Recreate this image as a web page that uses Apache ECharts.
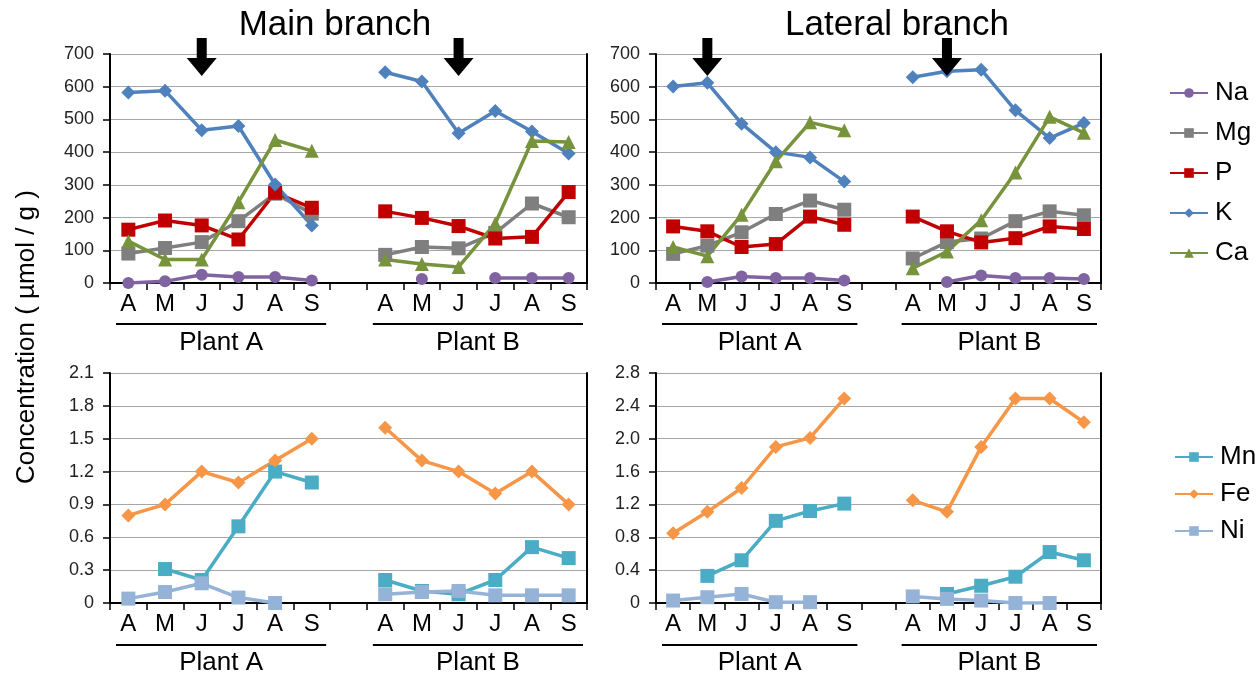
<!DOCTYPE html>
<html><head><meta charset="utf-8">
<script src="https://cdn.jsdelivr.net/npm/echarts@6/dist/echarts.min.js"></script>
<style>html,body{margin:0;padding:0;background:#fff}#c{width:1257px;height:678px}</style>
</head><body><div id="c"></div>
<script>
const months = ['A','M','J','J','A','S','','A','M','J','J','A','S'];
const plantLabels = ['Plant A','Plant B'];
const panelTitles = ['Main branch','Lateral branch'];
const yName = 'Concentration ( µmol / g )';

// Main branch, macro elements
const naMain = [0,5,25,18,18,8,null,null,12,null,15,15,15];
const mgMain = [90,107,125,189,273,212,null,86,110,106,153,243,201];
const pMain  = [163,191,176,133,276,230,null,219,199,174,136,141,278];
const kMain  = [582,588,467,480,301,176,null,644,616,458,526,463,396];
const caMain = [128,72,72,247,437,404,null,72,58,49,182,434,431];
// Lateral branch, macro elements
const naLat = [null,3,20,15,15,8,null,null,3,23,15,15,12];
const mgLat = [89,114,155,211,252,224,null,75,125,136,189,219,207];
const pLat  = [173,158,110,119,203,178,null,203,158,124,137,173,165];
const kLat  = [601,612,487,400,384,310,null,629,647,652,528,443,489];
const caLat = [110,82,209,372,491,467,null,45,96,192,338,508,459];
// Main branch, micro elements
const mnMain = [null,0.31,0.21,0.70,1.20,1.10,null,0.21,0.11,0.08,0.21,0.51,0.41];
const feMain = [0.8,0.9,1.2,1.1,1.3,1.5,null,1.6,1.3,1.2,1.0,1.2,0.9];
const niMain = [0.04,0.10,0.18,0.05,0.0,null,null,0.08,0.10,0.11,0.07,0.07,0.07];
// Lateral branch, micro elements
const mnLat = [null,0.33,0.52,1.00,1.12,1.21,null,null,0.11,0.21,0.32,0.62,0.52];
const feLat = [0.85,1.11,1.40,1.90,2.01,2.49,null,1.25,1.11,1.90,2.49,2.49,2.20];
const niLat = [0.03,0.07,0.11,0.01,0.01,null,null,0.08,0.05,0.03,0,0,null];

// arrow positions (category index) per top panel
const arrowsMain = [2, 9];
const arrowsLat = [1, 8];

const yMax = [700, 700, 2.1, 2.8];
const yInt = [100, 100, 0.3, 0.4];

const FONT = 'Liberation Sans, Arial, sans-serif';
const styles = {
  Na:{c:'#8064A2', s:'circle', z:12},
  Mg:{c:'#7F7F7F', s:'rect', z:14},
  P:{c:'#C00000', s:'rect', z:14},
  K:{c:'#4F81BD', s:'diamond', z:14},
  Ca:{c:'#77933C', s:'triangle', z:14},
  Mn:{c:'#4BACC6', s:'rect', z:14},
  Fe:{c:'#F79646', s:'diamond', z:14},
  Ni:{c:'#95B3D7', s:'rect', z:14}
};

const grids = [
  {left:110, top:54, width:477, height:229},
  {left:656, top:54, width:445, height:229},
  {left:110, top:373, width:477, height:230},
  {left:656, top:373, width:445, height:230}
];

const xAxis = [], yAxis = [];
grids.forEach((g,i)=>{
  xAxis.push({type:'category', gridIndex:i, data:months, boundaryGap:true,
    axisLine:{lineStyle:{color:'#000', width:2}},
    axisTick:{show:true, interval:0, length:7, lineStyle:{color:'#000', width:1.5}},
    axisLabel:{interval:0, fontSize:24, color:'#000', fontFamily:FONT, margin:9}});
  xAxis.push({type:'category', gridIndex:i, data:months, position:'top',
    axisLine:{lineStyle:{color:'#000', width:2}}, axisTick:{show:false}, axisLabel:{show:false}});
  yAxis.push({type:'value', gridIndex:i, min:0, max:yMax[i], interval:yInt[i],
    axisLine:{show:true, lineStyle:{color:'#000', width:2}},
    axisTick:{show:true, length:7, lineStyle:{color:'#000', width:1.5}},
    splitLine:{lineStyle:{color:'#A6A6A6', width:1.2}},
    axisLabel:{fontSize:18, color:'#222', fontFamily:FONT, margin:16,
      formatter:v=> i<2 ? String(Math.round(v)) : (Math.abs(v)<1e-9 ? '0' : v.toFixed(1))}});
  yAxis.push({type:'value', gridIndex:i, min:0, max:yMax[i], interval:yInt[i], position:'right',
    axisLine:{show:true, lineStyle:{color:'#000', width:2}}, axisTick:{show:false},
    axisLabel:{show:false}, splitLine:{show:false}});
});

function mk(name, data, gi, arrows){
  const st = styles[name];
  const s = {name, type:'line', data, xAxisIndex:2*gi, yAxisIndex:2*gi,
    symbol:st.s, symbolSize:st.z, showAllSymbol:true, connectNulls:false,
    lineStyle:{color:st.c, width:3.5}, itemStyle:{color:st.c}, color:st.c, z:3};
  if (arrows){
    s.markPoint = {symbol:'path://M10,0 L20,0 L20,20 L30,20 L15,38 L0,20 L10,20 Z',
      symbolSize:[30,38], symbolOffset:[0,3], itemStyle:{color:'#000'}, label:{show:false},
      silent:true,
      data: arrows.map(ix=>({coord:[ix, yMax[gi]]}))};
  }
  return s;
}

const series = [
  mk('Na',naMain,0), mk('Mg',mgMain,0), mk('P',pMain,0), mk('K',kMain,0,arrowsMain), mk('Ca',caMain,0),
  mk('Na',naLat,1), mk('Mg',mgLat,1), mk('P',pLat,1), mk('K',kLat,1,arrowsLat), mk('Ca',caLat,1),
  mk('Mn',mnMain,2), mk('Fe',feMain,2), mk('Ni',niMain,2),
  mk('Mn',mnLat,3), mk('Fe',feLat,3), mk('Ni',niLat,3)
];

const legendText = {fontSize:26, color:'#000', fontFamily:FONT, lineHeight:26, padding:[0,0,0,2]};
const option = {
  animation:false,
  backgroundColor:'#fff',
  grid: grids,
  xAxis, yAxis, series,
  legend:[
    {data:['Na','Mg','P','K','Ca'], orient:'vertical', left:1164, top:75, itemWidth:38, itemHeight:12,
      itemGap:14, textStyle:legendText, selectedMode:false},
    {data:['Mn','Fe','Ni'], orient:'vertical', left:1169, top:439, itemWidth:38, itemHeight:12,
      itemGap:11, textStyle:legendText, selectedMode:false}
  ]
};

const chart = echarts.init(document.getElementById('c'), null, {renderer:'canvas'});
chart.setOption(option);

// decorations computed from the axes
const graphic = [];
const titleX = [335, 897];
[0,1].forEach(p=>{
  graphic.push({type:'text', style:{text:panelTitles[p], x:titleX[p], y:25,
    font:'35px '+FONT, fill:'#000', align:'center', verticalAlign:'middle'}});
});
[0,1,2,3].forEach(gi=>{
  const band = grids[gi].width/months.length;
  const lineY = gi<2 ? 324 : 645;
  const textY = gi<2 ? 343 : 663;
  [[0,5],[7,12]].forEach((r,k)=>{
    const x0 = chart.convertToPixel({xAxisIndex:2*gi}, r[0]) - band/2 + 6;
    const x1 = chart.convertToPixel({xAxisIndex:2*gi}, r[1]) + band/2 - 4;
    graphic.push({type:'line', shape:{x1:x0, y1:lineY, x2:x1, y2:lineY}, style:{stroke:'#000', lineWidth:2.2}});
    graphic.push({type:'text', style:{text:plantLabels[k], x:(x0+x1)/2, y:textY,
      font:'26px '+FONT, fill:'#000', align:'center', verticalAlign:'middle'}});
  });
});
graphic.push({type:'text', x:27, y:337, rotation:Math.PI/2,
  style:{text:yName, x:0, y:0, font:'26px '+FONT, fill:'#000', align:'center', verticalAlign:'middle'}});
chart.setOption({graphic});
</script></body></html>
